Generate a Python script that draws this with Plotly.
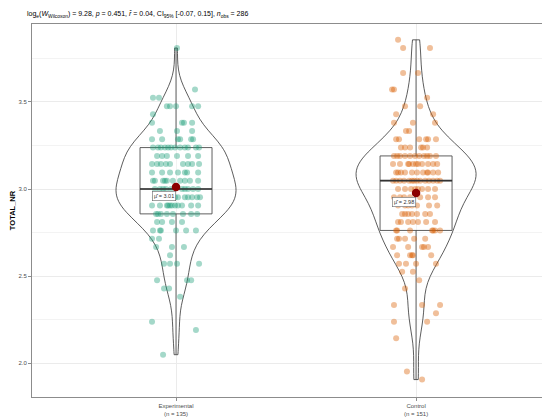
import numpy as np
import plotly.graph_objects as go

categories = ["Experimental", "Control"]
colors = ["#1B9E77", "#D95F02"]

# TOTAL_NR levels (rows of points) and the horizontal jitter of each point in that row
exp_levels = [3.810, 3.571, 3.524, 3.476, 3.429, 3.381, 3.333, 3.286, 3.238, 3.190,
              3.143, 3.095, 3.048, 3.000, 2.952, 2.905, 2.857, 2.810, 2.762, 2.714,
              2.667, 2.619, 2.571, 2.476, 2.429, 2.381, 2.238, 2.190, 2.048]
exp_jitter = [
    [0.004],
    [0.079],
    [-0.096, -0.071],
    [-0.038, -0.025, 0.0, 0.067, 0.092],
    [-0.096],
    [-0.100, 0.025, 0.033, 0.067],
    [-0.067, 0.004, 0.067],
    [-0.100, -0.058, 0.008, 0.017, 0.063, 0.071],
    [-0.096, -0.046, -0.033, -0.021, 0.083, -0.075, -0.004, 0.017, 0.037, 0.050, -0.063, 0.096],
    [-0.079, -0.058, -0.038, 0.004, 0.050, 0.092],
    [-0.100, -0.079, -0.063, -0.042, -0.025, 0.029, 0.050, 0.067, 0.096],
    [-0.100, -0.058, -0.025, 0.008, 0.037, 0.046, 0.092],
    [-0.096, -0.088, -0.054, -0.046, -0.038, -0.013, 0.037, 0.058, 0.092, 0.017],
    [-0.088, -0.067, -0.042, -0.021, 0.025, 0.050, 0.071, 0.092, -0.054, 0.037],
    [-0.004, 0.008, 0.037, 0.050, 0.067, 0.088, 0.100, -0.067, -0.088, -0.033],
    [-0.100, -0.038, -0.033, -0.025, -0.017, -0.004, 0.008, 0.025, 0.063, -0.067, 0.092],
    [-0.083, -0.075, -0.063, -0.038, 0.029, 0.063, 0.088, -0.013],
    [-0.079, -0.058, -0.017, 0.025],
    [-0.096, -0.067, -0.063, 0.0, 0.083, 0.042],
    [-0.100, -0.071],
    [-0.083, -0.017, 0.033],
    [-0.025],
    [-0.050, -0.025, 0.004, 0.096],
    [-0.079, 0.046, 0.063],
    [-0.050, -0.029],
    [0.017],
    [-0.100],
    [0.083],
    [-0.054],
]

ctrl_levels = [3.857, 3.810, 3.667, 3.571, 3.524, 3.476, 3.429, 3.381, 3.333, 3.286,
               3.238, 3.190, 3.143, 3.095, 3.048, 3.000, 2.952, 2.905, 2.857, 2.810,
               2.762, 2.714, 2.667, 2.619, 2.571, 2.524, 2.476, 2.429, 2.333, 2.286,
               2.238, 2.143, 1.952, 1.905]
ctrl_jitter = [
    [-0.075],
    [-0.054, 0.058],
    [-0.054, 0.008],
    [-0.100, -0.092],
    [0.046],
    [-0.046, 0.017],
    [-0.083, 0.071],
    [-0.092, -0.013, 0.079],
    [-0.042, -0.029],
    [-0.083, -0.071, 0.013, 0.042, 0.050, 0.083],
    [-0.063, -0.046, -0.025, 0.021, 0.029, 0.046],
    [-0.092, -0.079, -0.067, -0.046, -0.025, -0.004, 0.033, 0.046, 0.058, 0.013, 0.083],
    [-0.096, -0.033, -0.029, 0.0, 0.008, 0.025, 0.050, 0.071, 0.088, -0.067, -0.013],
    [-0.083, -0.075, -0.063, -0.017, 0.029, 0.046, 0.050, 0.071, -0.046, 0.004, 0.092],
    [-0.096, -0.067, -0.029, -0.017, 0.004, 0.017, 0.071, 0.088, -0.083, -0.050, -0.008, 0.038, 0.054, 0.100],
    [-0.046, -0.021, -0.004, 0.025, 0.050, 0.079, -0.075, 0.008],
    [-0.067, -0.050, 0.017, 0.050, 0.079, -0.092, -0.025],
    [-0.075, -0.046, -0.033, -0.017, 0.004, 0.054, 0.088],
    [-0.058, -0.046, -0.033, -0.017, 0.004, 0.038, 0.058],
    [-0.075, -0.063, -0.033, -0.013, 0.008, 0.042, 0.079],
    [-0.083, -0.079, 0.067, 0.071, 0.079, 0.100, -0.025],
    [-0.079, -0.071, -0.046, -0.008, 0.038],
    [-0.096, -0.033, 0.025, 0.033, 0.050],
    [-0.079, -0.025, -0.017, -0.013, 0.063],
    [-0.071, -0.042, 0.0, 0.083],
    [-0.058, -0.013],
    [0.013],
    [-0.046],
    [-0.092, 0.025, 0.100],
    [0.083],
    [-0.092, 0.046],
    [-0.083],
    [-0.038],
    [0.025],
]

subtitle = ("log<sub>e</sub>(<i>W</i><sub>Wilcoxon</sub>) = 9.28, <i>p</i> = 0.451, "
            "<i>r\u0302</i> = 0.04, CI<sub>95%</sub> [-0.07, 0.15], <i>n</i><sub>obs</sub> = ")

FONT = "Liberation Sans"
groups = [(exp_levels, exp_jitter), (ctrl_levels, ctrl_jitter)]
BOX_W = 0.3

# the page adds an 8 px body margin; the figure is sized so that it ends at the window edge
W, H = 542, 411

fig = go.Figure()
n_total = 0
ticktext = []
for i, (levels, jit) in enumerate(groups):
    vals = np.array([lv for lv, row in zip(levels, jit) for _ in row])
    offs = np.array([o for row in jit for o in row])
    n = len(vals)
    n_total += n
    ticktext.append(f"{categories[i]}<br>(n = {n})")
    r, g, b = (int(colors[i][k:k + 2], 16) for k in (1, 3, 5))
    fig.add_trace(go.Scatter(
        x=i + offs, y=vals, mode="markers",
        marker=dict(size=6, color=f"rgba({r},{g},{b},0.4)", line=dict(width=0)),
        showlegend=False, hoverinfo="skip"))
    q1, q3 = np.percentile(vals, [25, 75])
    iqr = q3 - q1
    bw = 0.9 * min(vals.std(ddof=1), iqr / 1.34) * n ** (-0.2)
    fig.add_trace(go.Box(
        y=vals, x0=i, width=BOX_W, boxpoints=False, quartilemethod="inclusive",
        whiskerwidth=0, fillcolor="rgba(255,255,255,0.2)",
        line=dict(color="#4d4d4d", width=0.9), showlegend=False, hoverinfo="skip"))
    med = np.median(vals)
    fig.add_trace(go.Scatter(
        x=[i - BOX_W / 2, i + BOX_W / 2], y=[med, med], mode="lines",
        line=dict(color="#333333", width=1.6), showlegend=False, hoverinfo="skip"))
    fig.add_trace(go.Violin(
        y=vals, x0=i, width=0.5, spanmode="hard", bandwidth=bw, scalemode="width",
        points=False, box_visible=False, meanline_visible=False,
        fillcolor="rgba(255,255,255,0.2)", line=dict(color="#333333", width=0.8),
        showlegend=False, hoverinfo="skip"))
    m = vals.mean()
    fig.add_trace(go.Scatter(
        x=[i], y=[m], mode="markers",
        marker=dict(size=8.5, color="#8B0000"), showlegend=False, hoverinfo="skip"))
    fig.add_annotation(
        x=i, y=m, xref="x", yref="y", text=f"\u03bc\u0302 = {m:.2f}", showarrow=False,
        xshift=-12, yshift=-9, font=dict(size=5.5, color="#333333", family=FONT),
        bgcolor="white", bordercolor="#666666", borderwidth=0.6, borderpad=1.5)

fig.add_annotation(
    x=0.5, y=-0.062, xref="paper", yref="paper", text="<b>group</b>", showarrow=False,
    yanchor="middle", font=dict(size=7.5, color="black", family=FONT))

fig.update_layout(
    width=W, height=H,
    margin=dict(l=24, r=0, t=16, b=22, autoexpand=False),
    paper_bgcolor="white", plot_bgcolor="white",
    font=dict(family=FONT, color="#4d4d4d"),
    violinmode="overlay", boxmode="overlay",
    title=dict(text=subtitle + str(n_total), xref="container", x=19 / W, xanchor="left",
               y=1 - 6 / H, yanchor="middle", font=dict(size=7, color="black", family=FONT)),
    xaxis=dict(range=[-0.6, 1.558], tickvals=[0, 1], ticktext=ticktext,
               showgrid=True, gridcolor="#ebebeb", gridwidth=0.8, zeroline=False,
               showline=True, linecolor="#8c8c8c", linewidth=1, mirror=True,
               ticks="outside", ticklen=3, tickcolor="#8c8c8c", tickwidth=0.6,
               tickfont=dict(size=6, color="#4d4d4d")),
    yaxis=dict(range=[1.805, 3.948], tick0=0, dtick=0.5, tickformat=".1f",
               showgrid=True, gridcolor="#ebebeb", gridwidth=0.8, zeroline=False,
               showline=True, linecolor="#8c8c8c", linewidth=1, mirror=True,
               ticks="outside", ticklen=3, tickcolor="#8c8c8c", tickwidth=0.6,
               tickfont=dict(size=6, color="#4d4d4d"),
               minor=dict(dtick=0.25, showgrid=True, gridcolor="#f3f3f3", gridwidth=0.6),
               title=dict(text="<b>TOTAL_NR</b>", standoff=1,
                          font=dict(size=7.5, color="black", family=FONT))),
)

fig.write_html("out.html")
